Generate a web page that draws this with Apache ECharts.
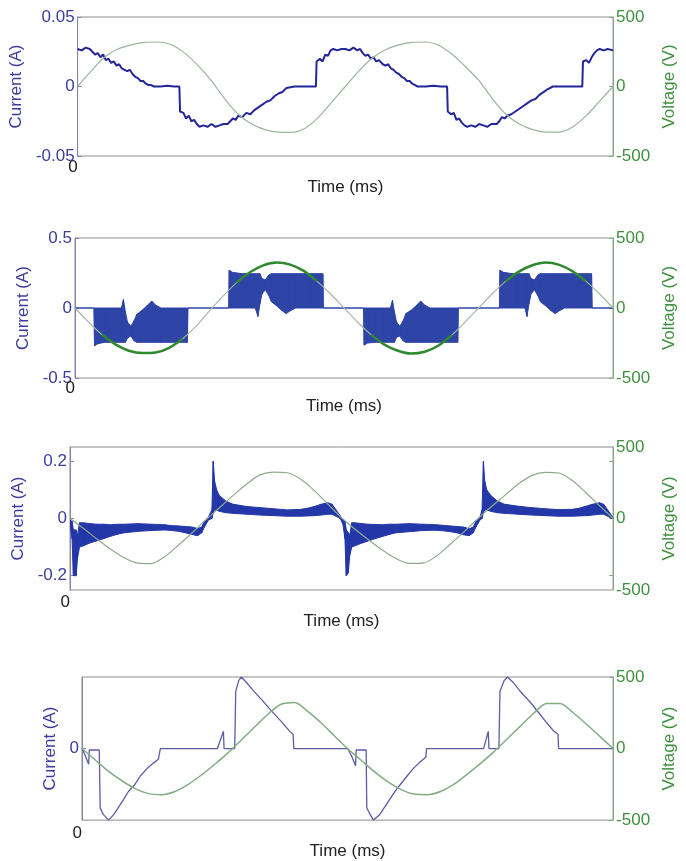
<!DOCTYPE html>
<html>
<head>
<meta charset="utf-8">
<script src="https://cdn.jsdelivr.net/npm/echarts@6/dist/echarts.min.js"></script>
<style>
  html, body { margin: 0; padding: 0; background: #fff; }
  #chart { width: 686px; height: 861px; }
</style>
</head>
<body>
<div id="chart"></div>
<script>
// time base (ms) for the voltage traces
var voltT = [0,1,2,3,4,5,6,7,8,9,10,11,12,13,14,15,16,17,18,19,20,21,22,23,24,25,26,27,28,29,30,31,32,33,34,35,36,37,38,39,40];

// voltage (V)
var volt1 = [0,110,210,270,300,318,320,300,240,150,40,-90,-200,-270,-310,-328,-330,-300,-220,-110,0,110,205,265,300,318,320,295,230,140,40,-90,-200,-270,-310,-328,-328,-290,-210,-105,0];
var volt2 = [0,-100,-190,-260,-305,-322,-318,-285,-220,-130,-20,85,180,255,305,325,310,265,190,100,0,-100,-190,-262,-305,-325,-312,-270,-195,-100,0,100,190,260,305,325,308,262,190,100,0];
var volt3 = [0,-70,-145,-215,-275,-312,-315,-265,-185,-100,-10,75,160,240,305,325,320,275,195,100,5,-75,-150,-220,-280,-314,-312,-262,-180,-95,-5,80,160,240,300,322,318,265,180,90,0];
var volt4 = [0,-80,-160,-225,-280,-315,-322,-300,-250,-185,-110,-30,60,150,240,310,322,260,180,90,0,-80,-160,-230,-285,-318,-322,-300,-250,-180,-105,-25,65,155,245,315,315,250,170,85,0];

// panel 1 current (A): [t, i]
var cur1 = [[0,0.027],[0.3,0.026],[0.6,0.028],[0.9,0.027],[1.1,0.025],[1.3,0.023],[1.5,0.024],[1.7,0.021],[1.9,0.023],[2.1,0.019],[2.3,0.02],[2.5,0.017],[2.7,0.018],[2.9,0.015],[3.1,0.016],[3.3,0.013],[3.5,0.012],[3.7,0.011],[3.9,0.012],[4.1,0.009],[4.3,0.007],[4.5,0.006],[4.7,0.004],[4.9,0.004],[5.1,0.002],[5.3,0.001],[5.5,0.001],[5.7,0],[6.2,0],[6.7,0.0005],[7.2,0],[7.6,0],
  [7.65,-0.018],[7.9,-0.019],[8.1,-0.023],[8.3,-0.021],[8.5,-0.025],[8.7,-0.024],[8.9,-0.027],[9.1,-0.029],[9.4,-0.028],[9.7,-0.029],[10.0,-0.027],[10.3,-0.029],[10.6,-0.028],[10.9,-0.027],[11.2,-0.027],[11.4,-0.025],[11.6,-0.023],[11.8,-0.024],[12.0,-0.021],[12.3,-0.022],[12.6,-0.019],[12.9,-0.02],[13.2,-0.017],[13.5,-0.015],[13.8,-0.013],[14.1,-0.011],[14.4,-0.01],[14.7,-0.007],[15.0,-0.005],[15.3,-0.004],[15.6,-0.001],[16.2,0],[16.8,0],[17.4,0],[17.8,0],
  [17.85,0.018],[18.1,0.02],[18.3,0.018],[18.5,0.023],[18.7,0.022],[18.9,0.026],[19.1,0.027],[19.4,0.026],[19.7,0.027],[20.0,0.027],[20.3,0.026],[20.6,0.028],[20.9,0.026],[21.1,0.027],[21.3,0.024],[21.5,0.022],[21.7,0.023],[21.9,0.02],[22.1,0.021],[22.3,0.018],[22.5,0.019],[22.8,0.016],[23.0,0.015],[23.2,0.016],[23.4,0.013],[23.6,0.012],[23.8,0.01],[24.0,0.009],[24.2,0.007],[24.4,0.006],[24.6,0.004],[24.8,0.004],[25.0,0.002],[25.2,0.001],[25.4,0],[26.0,0],[26.6,0.0005],[27.1,0],[27.6,0],
  [27.65,-0.018],[27.9,-0.02],[28.1,-0.019],[28.3,-0.024],[28.5,-0.023],[28.7,-0.026],[28.9,-0.028],[29.1,-0.029],[29.4,-0.028],[29.7,-0.029],[30.0,-0.027],[30.3,-0.028],[30.6,-0.029],[30.9,-0.027],[31.3,-0.027],[31.5,-0.025],[31.7,-0.022],[31.9,-0.023],[32.1,-0.021],[32.4,-0.02],[32.7,-0.018],[33.0,-0.016],[33.3,-0.014],[33.6,-0.012],[33.9,-0.01],[34.2,-0.009],[34.5,-0.006],[34.8,-0.004],[35.1,-0.002],[35.5,0],[36.2,0],[36.9,0],[37.7,0],
  [37.75,0.018],[38.0,0.019],[38.2,0.017],[38.4,0.021],[38.6,0.024],[38.8,0.026],[39.0,0.027],[39.3,0.026],[39.6,0.027],[40,0.026]];

// panel 2 current envelope (A): [t, upper, lower]
var band2 = [[0,0,0],[1.4,0,0],
  [1.45,0,-0.27],[1.7,0,-0.255],[2.2,0,-0.245],[3.0,0,-0.245],[3.45,0,-0.245],[3.6,0.06,-0.245],[3.75,-0.03,-0.245],[3.9,-0.1,-0.215],[4.15,-0.13,-0.2],[4.4,-0.09,-0.235],[4.6,-0.045,-0.245],[5.0,-0.015,-0.245],[5.4,0.02,-0.245],[5.7,0.05,-0.245],[6.0,0.02,-0.245],[6.4,0,-0.245],[7.5,0,-0.245],[8.35,0,-0.245],[8.4,0,0],
  [11.42,0,0],[11.47,0.27,0],[11.7,0.255,0],[12.4,0.245,0],[13.4,0.245,0],[13.6,0.245,-0.06],[13.75,0.245,0.03],[13.9,0.21,0.1],[14.15,0.2,0.13],[14.4,0.235,0.09],[14.6,0.245,0.045],[15.0,0.245,0.015],[15.4,0.245,-0.02],[15.7,0.245,-0.04],[16.0,0.245,-0.02],[16.4,0.245,0],[17.5,0.245,0],[18.42,0.245,0],[18.47,0,0],
  [21.45,0,0],[21.5,0,-0.265],[21.75,0,-0.25],[22.3,0,-0.245],[23.0,0,-0.245],[23.45,0,-0.245],[23.6,0.055,-0.245],[23.75,-0.03,-0.245],[23.9,-0.1,-0.21],[24.15,-0.13,-0.2],[24.4,-0.09,-0.235],[24.6,-0.04,-0.245],[25.0,-0.015,-0.245],[25.4,0.02,-0.245],[25.7,0.05,-0.245],[26.0,0.02,-0.245],[26.4,0,-0.245],[27.5,0,-0.245],[28.45,0,-0.245],[28.5,0,0],
  [31.55,0,0],[31.6,0.27,0],[31.85,0.255,0],[32.5,0.245,0],[33.45,0.245,0],[33.6,0.245,-0.06],[33.75,0.245,0.03],[33.9,0.21,0.1],[34.15,0.2,0.13],[34.4,0.235,0.09],[34.6,0.245,0.045],[35.0,0.245,0.015],[35.4,0.245,-0.02],[35.7,0.245,-0.04],[36.0,0.245,-0.02],[36.4,0.245,0],[37.5,0.245,0],[38.4,0.245,0],[38.45,0,0],[40,0,0]];

// time spans where the panel 2 voltage trace is drawn heavy
var heavy2 = [[1.45,8.4],[11.47,18.47],[21.5,28.5],[31.6,38.45]];

// panel 3 current envelope (A): [t, upper, lower]
var band3 = [[0,-0.005,-0.02],[0.15,-0.01,-0.07],[0.25,-0.04,-0.2],[0.45,-0.04,-0.2],[0.55,-0.06,-0.14],[0.7,-0.015,-0.1],[1.0,-0.015,-0.095],[1.5,-0.018,-0.085],[2.0,-0.02,-0.078],[2.5,-0.02,-0.07],[3.0,-0.022,-0.062],[3.5,-0.02,-0.055],[4.0,-0.02,-0.05],[5.0,-0.018,-0.045],[6.0,-0.02,-0.042],[7.0,-0.022,-0.04],[7.5,-0.025,-0.042],[8.0,-0.026,-0.045],[8.5,-0.028,-0.05],[9.0,-0.03,-0.056],[9.4,-0.035,-0.06],[9.7,-0.03,-0.05],[9.9,-0.01,-0.03],[10.2,0.005,-0.005],[10.45,0.03,0],[10.55,0.2,0.02],[10.65,0.13,0.03],[10.8,0.1,0.03],[11.0,0.08,0.025],[11.5,0.06,0.02],[12.0,0.05,0.018],[13.0,0.042,0.015],[14.0,0.038,0.012],[15.0,0.034,0.01],[16.0,0.03,0.008],[17.0,0.032,0.008],[17.5,0.036,0.009],[18.0,0.042,0.01],[18.5,0.05,0.012],[19.0,0.055,0.015],[19.3,0.05,0.015],[19.6,0.03,0.008],[19.9,0.01,0],
  [20.1,-0.005,-0.02],[20.25,-0.01,-0.07],[20.35,-0.04,-0.2],[20.5,-0.05,-0.19],[20.6,-0.06,-0.13],[20.75,-0.015,-0.1],[21.0,-0.015,-0.095],[21.5,-0.018,-0.086],[22.0,-0.02,-0.078],[22.5,-0.021,-0.07],[23.0,-0.022,-0.063],[23.5,-0.02,-0.056],[24.0,-0.02,-0.05],[25.0,-0.018,-0.046],[26.0,-0.02,-0.042],[27.0,-0.022,-0.041],[27.5,-0.024,-0.043],[28.0,-0.026,-0.046],[28.5,-0.028,-0.05],[29.0,-0.03,-0.057],[29.4,-0.036,-0.06],[29.7,-0.03,-0.05],[29.9,-0.01,-0.03],[30.2,0.005,-0.005],[30.35,0.03,0],[30.45,0.2,0.02],[30.55,0.13,0.03],[30.7,0.1,0.03],[31.0,0.08,0.025],[31.5,0.06,0.02],[32.0,0.05,0.018],[33.0,0.043,0.015],[34.0,0.038,0.012],[35.0,0.034,0.01],[36.0,0.031,0.008],[37.0,0.032,0.008],[37.5,0.036,0.009],[38.0,0.043,0.01],[38.5,0.05,0.012],[39.0,0.055,0.015],[39.3,0.05,0.015],[39.6,0.03,0.008],[39.9,0.01,0],[40,0,0]];

// panel 4 current (scaled, axis shows only 0): [t, i]
var cur4 = [[0,0],[0.25,-0.1],[0.5,-0.22],[0.55,-0.02],[1.3,-0.02],[1.37,-0.83],[1.6,-0.92],[2.0,-1.0],[2.4,-0.92],[3.0,-0.75],[3.5,-0.6],[3.95,-0.51],[4.4,-0.38],[4.9,-0.28],[5.4,-0.2],[5.75,-0.15],[5.9,0],[8,0],[10.2,0],[10.65,0.24],[10.7,0],[11.5,0],[11.58,0.8],[11.8,0.95],[12.0,1.0],[12.4,0.92],[12.9,0.81],[13.6,0.67],[14.2,0.54],[15.0,0.38],[15.65,0.24],[15.9,0.2],[15.95,0],[18,0],[20,0],[20.3,-0.1],[20.6,-0.24],[20.65,-0.02],[21.4,-0.02],[21.45,-0.83],[21.7,-0.92],[21.95,-1.0],[22.4,-0.93],[23.0,-0.76],[23.5,-0.62],[23.9,-0.52],[24.5,-0.38],[25.0,-0.27],[25.5,-0.18],[25.9,-0.12],[25.95,0],[28,0],[30.25,0],[30.6,0.24],[30.65,0],[31.4,0],[31.48,0.8],[31.8,0.95],[32.05,1.0],[32.5,0.92],[33.0,0.8],[33.8,0.64],[34.4,0.5],[35.0,0.36],[35.5,0.25],[35.85,0.2],[35.9,0],[40,0]];

var FONT = '"Liberation Sans", Arial, Helvetica, sans-serif';
var BLUE_TXT = '#3c3c9c';
var GREEN_TXT = '#3f903f';

function pairs(ts, vs) {
  return ts.map(function (t, i) { return [t, vs[i]]; });
}

function inSpans(t, spans) {
  for (var k = 0; k < spans.length; k++) {
    if (t >= spans[k][0] && t <= spans[k][1]) return true;
  }
  return false;
}

function xAx(gi, nameGap, margin) {
  return {
    gridIndex: gi, type: 'value', min: 0, max: 40, interval: 40,
    axisLine: {show: false}, axisTick: {show: false}, splitLine: {show: false},
    axisLabel: {
      formatter: function (v) { return v === 0 ? '0' : ''; },
      align: 'right', margin: margin, color: '#222', fontSize: 17, fontFamily: FONT
    },
    name: 'Time (ms)', nameLocation: 'middle', nameGap: nameGap,
    nameTextStyle: {color: '#222', fontSize: 17, fontFamily: FONT}
  };
}

function curAx(gi, min, max, interval, nameGap, custom) {
  var ax = {
    gridIndex: gi, type: 'value', position: 'left', min: min, max: max,
    axisLine: {show: true, lineStyle: {color: '#8484b4'}},
    axisTick: {show: true, inside: true, length: 4, lineStyle: {color: '#8484b4'}},
    axisLabel: {color: BLUE_TXT, fontSize: 17, fontFamily: FONT, margin: 3},
    splitLine: {show: false},
    name: 'Current (A)', nameLocation: 'middle', nameGap: nameGap, nameRotate: 90,
    nameTextStyle: {color: BLUE_TXT, fontSize: 17, fontFamily: FONT}
  };
  if (custom) {
    ax.axisLabel.customValues = custom;
    ax.axisTick.customValues = custom;
  } else {
    ax.interval = interval;
  }
  return ax;
}

function voltAx(gi, nameGap, ticks) {
  var ax = {
    gridIndex: gi, type: 'value', position: 'right', min: -500, max: 500, interval: 500,
    axisLine: {show: true, lineStyle: {color: '#86a886'}},
    axisTick: {show: true, inside: true, length: 4, lineStyle: {color: '#86a886'}},
    axisLabel: {color: GREEN_TXT, fontSize: 17, fontFamily: FONT, margin: 3},
    splitLine: {show: false},
    name: 'Voltage (V)', nameLocation: 'middle', nameGap: nameGap, nameRotate: 90,
    nameTextStyle: {color: GREEN_TXT, fontSize: 17, fontFamily: FONT}
  };
  if (ticks) ax.axisTick.customValues = ticks;
  return ax;
}

// filled envelope: one quad per pair of neighbouring rows
function bandSeries(rows, gi, color) {
  return {
    type: 'custom', xAxisIndex: gi, yAxisIndex: 2 * gi, data: rows,
    encode: {x: 0, y: [1, 2]}, z: 2, clip: true,
    renderItem: function (params, api) {
      var i = params.dataIndexInside;
      if (i >= params.dataInsideLength - 1) return null;
      var a = api.coord([api.value(0, i), api.value(1, i)]);
      var b = api.coord([api.value(0, i + 1), api.value(1, i + 1)]);
      var c = api.coord([api.value(0, i + 1), api.value(2, i + 1)]);
      var d = api.coord([api.value(0, i), api.value(2, i)]);
      return {
        type: 'polygon', shape: {points: [a, b, c, d]},
        style: {fill: color, stroke: color, lineWidth: 1}
      };
    }
  };
}

function voltSeries(gi, vals, color, width) {
  return {
    type: 'line', xAxisIndex: gi, yAxisIndex: 2 * gi + 1, data: pairs(voltT, vals),
    smooth: 0.3, symbol: 'none', lineStyle: {color: color, width: width}, z: 4
  };
}

var chart = echarts.init(document.getElementById('chart'), null, {renderer: 'canvas'});

var gridBox = {show: true, borderColor: '#8c8c8c', borderWidth: 1, backgroundColor: 'transparent'};

var heavyVolt2 = pairs(voltT, volt2).map(function (p) {
  return inSpans(p[0], heavy2) ? p : [p[0], null];
});

var option = {
  animation: false,
  backgroundColor: '#fff',
  grid: [
    Object.assign({left: 75, top: 17, width: 543, height: 139}, gridBox),
    Object.assign({left: 75, top: 238, width: 543, height: 140}, gridBox),
    Object.assign({left: 70, top: 447, width: 557, height: 143}, gridBox),
    Object.assign({left: 82, top: 677, width: 546, height: 146}, gridBox)
  ],
  xAxis: [xAx(0, 23, 3), xAx(1, 20, 2), xAx(2, 23, 4), xAx(3, 20, 5)],
  yAxis: [
    curAx(0, -0.05, 0.05, 0.05, 48), voltAx(0, 43),
    curAx(1, -0.5, 0.5, 0.5, 38), voltAx(1, 38),
    curAx(2, -0.25, 0.25, null, 42, [-0.2, 0, 0.2]), voltAx(2, 44, [-400, 0, 400]),
    curAx(3, -1, 1, null, 17, [0]), voltAx(3, 40)
  ],
  series: [
    {
      type: 'line', xAxisIndex: 0, yAxisIndex: 0, data: cur1, symbol: 'none',
      lineStyle: {color: '#25259a', width: 2}, z: 2
    },
    voltSeries(0, volt1, '#9cb49c', 1.2),
    bandSeries(band2, 1, '#2e44a6'),
    voltSeries(1, volt2, '#a2b6a2', 1.1),
    {
      type: 'line', xAxisIndex: 1, yAxisIndex: 3, data: heavyVolt2, smooth: 0.3,
      symbol: 'none', connectNulls: false, lineStyle: {color: '#2f8a2f', width: 2.5}, z: 5
    },
    bandSeries(band3, 2, '#2437a8'),
    voltSeries(2, volt3, '#8faa8f', 1.2),
    {
      type: 'line', xAxisIndex: 3, yAxisIndex: 6, data: cur4, symbol: 'none',
      lineStyle: {color: '#5c5ca6', width: 1.3}, z: 2
    },
    voltSeries(3, volt4, '#82ad82', 1.5)
  ]
};

chart.setOption(option);
</script>
</body>
</html>
